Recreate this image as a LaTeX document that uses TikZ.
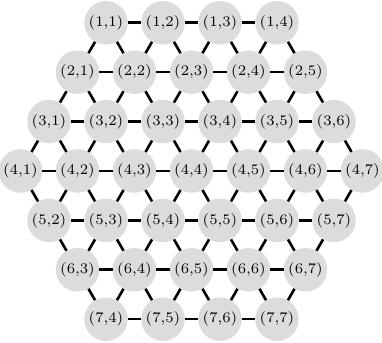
\documentclass[tikz,border=0pt]{standalone}
\usepackage{graphicx}
\definecolor{nodegray}{RGB}{220,220,220}
\newcommand{\celllabel}[1]{\scalebox{2.1}{\scriptsize #1}}
\tikzset{
  cell/.style={circle, fill=nodegray, minimum size=43.5pt, inner sep=0pt},
  link/.style={line width=2.6pt, black}
}
\begin{document}
\begin{tikzpicture}[x=1pt,y=1pt]
\useasboundingbox (0,0) rectangle (382,342);
% nodes
\foreach \i/\jlo/\jhi in {1/1/4,2/1/5,3/1/6,4/1/7,5/2/7,6/3/7,7/4/7}{
  \foreach \j in {\jlo,...,\jhi}{
    \pgfmathsetmacro{\px}{20.5+57*(\j-1)-28.5*(\i-4)}
    \pgfmathsetmacro{\py}{342-(171+49.4*(\i-4))}
    \node[cell] (n\i\j) at (\px,\py) {\celllabel{(\i,\j)}};
  }
}
% horizontal links
\foreach \i/\jlo/\jhi in {1/1/3,2/1/4,3/1/5,4/1/6,5/2/6,6/3/6,7/4/6}{
  \foreach \j in {\jlo,...,\jhi}{
    \pgfmathtruncatemacro{\k}{\j+1}
    \draw[link] (n\i\j) -- (n\i\k);
  }
}
% down-left links (i,j)->(i+1,j)
\foreach \i/\j in {1/1,1/2,1/3,1/4,2/1,2/2,2/3,2/4,2/5,3/1,3/2,3/3,3/4,3/5,3/6,
                   4/2,4/3,4/4,4/5,4/6,4/7,5/3,5/4,5/5,5/6,5/7,6/4,6/5,6/6,6/7}{
  \pgfmathtruncatemacro{\ii}{\i+1}
  \draw[link] (n\i\j) -- (n\ii\j);
}
% down-right links (i,j)->(i+1,j+1)
\foreach \i/\j in {1/1,1/2,1/3,1/4,2/1,2/2,2/3,2/4,2/5,3/1,3/2,3/3,3/4,3/5,3/6,
                   4/1,4/2,4/3,4/4,4/5,4/6,5/2,5/3,5/4,5/5,5/6,6/3,6/4,6/5,6/6}{
  \pgfmathtruncatemacro{\ii}{\i+1}
  \pgfmathtruncatemacro{\jj}{\j+1}
  \draw[link] (n\i\j) -- (n\ii\jj);
}
\end{tikzpicture}
\end{document}
